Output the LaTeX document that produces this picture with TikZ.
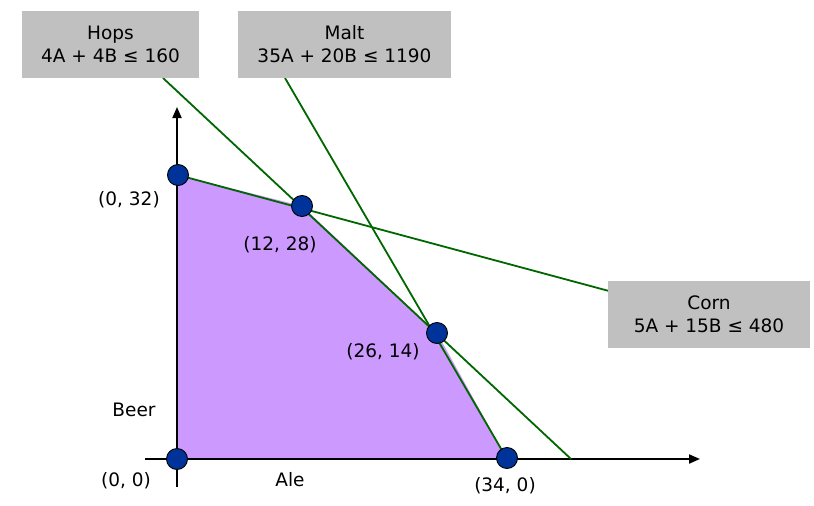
\documentclass[tikz,border=0pt]{standalone}
\usepackage{fontspec}
\setmainfont{DejaVu Sans}
\usetikzlibrary{arrows.meta}
\definecolor{boxgray}{HTML}{C0C0C0}
\definecolor{linegreen}{HTML}{006600}
\definecolor{dotblue}{HTML}{003399}
\definecolor{regionfill}{HTML}{CC99FF}
\tikzset{
  lbl/.style={font=\fontsize{18.5}{23}\selectfont, inner sep=0pt},
  infobox/.style={fill=boxgray, draw=none, align=center, inner sep=0pt, minimum height=67pt,
    font=\fontsize{18.5}{23}\selectfont},
  cline/.style={draw=linegreen, line width=1.8pt},
  axis/.style={draw=black, line width=2pt, -{Triangle[length=11pt,width=9pt]}},
  vdot/.style={circle, fill=dotblue, draw=black, line width=0.9pt, minimum size=21pt, inner sep=0pt}
}
\begin{document}
\begin{tikzpicture}[x=1pt,y=-1pt]
\useasboundingbox (0,0) rectangle (814,506);
% feasible region
\fill[regionfill] (177,459) -- (178,175) -- (302,206) -- (437,333) -- (507,459) -- cycle;
% axes
\coordinate (xs) at (145,459);
\coordinate (xe) at (700,459);
\coordinate (ys) at (177,487);
\coordinate (ye) at (177,107);
\draw[axis] (xs) -- (xe);
\draw[axis] (ys) -- (ye);
% constraint lines
\coordinate (hopsA) at (163,78);
\coordinate (hopsB) at (571,459);
\coordinate (maltA) at (285,78);
\coordinate (maltB) at (507,459);
\coordinate (cornA) at (178,175);
\coordinate (cornB) at (609,291);
\draw[cline] (hopsA) -- (hopsB);
\draw[cline] (maltA) -- (maltB);
\draw[cline] (cornA) -- (cornB);
% boxes
\node[infobox, minimum width=177pt] (hops) at (110.5,44.5) {Hops\\4A + 4B ≤ 160};
\node[infobox, minimum width=213pt] (malt) at (344.5,44.5) {Malt\\35A + 20B ≤ 1190};
\node[infobox, minimum width=202pt] (corn) at (709,314.5) {Corn\\5A + 15B ≤ 480};
% vertices
\node[vdot] (p0) at (177,459) {};
\node[vdot] (p1) at (178,175) {};
\node[vdot] (p2) at (302,206) {};
\node[vdot] (p3) at (437,333) {};
\node[vdot] (p4) at (507,458) {};
% labels
\node[lbl] (l0) at (126,481) {(0, 0)};
\node[lbl] (l1) at (129,200) {(0, 32)};
\node[lbl] (l2) at (280,245) {(12, 28)};
\node[lbl] (l3) at (383,352) {(26, 14)};
\node[lbl] (l4) at (505,486) {(34, 0)};
\node[lbl] (ale) at (290,480) {Ale};
\node[lbl] (beer) at (134,410) {Beer};
\end{tikzpicture}
\end{document}
